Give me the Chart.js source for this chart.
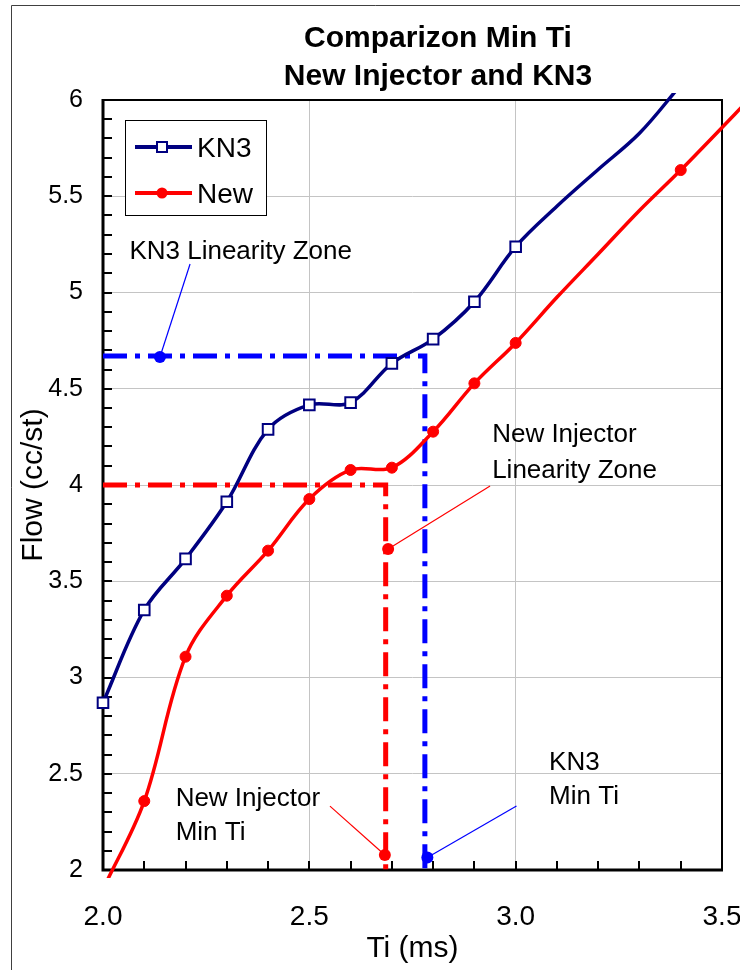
<!DOCTYPE html>
<html><head><meta charset="utf-8">
<script src="https://cdn.jsdelivr.net/npm/chart.js@4.4.0/dist/chart.umd.min.js"></script>
<style>html,body{margin:0;padding:0;background:#fff}canvas{display:block}</style>
</head><body>
<canvas id="c" width="740" height="970"></canvas>
<script>
// ---- text ----
const titleLines = ['Comparizon Min Ti', 'New Injector and KN3'];
const xAxisTitle = 'Ti (ms)';
const yAxisTitle = 'Flow (cc/st)';
const seriesNames = ['KN3', 'New'];

// ---- ticks ----
const xTickValues = [2.0, 2.5, 3.0, 3.5];
const xTickLabels = ['2.0', '2.5', '3.0', '3.5'];
const yTickValues = [2, 2.5, 3, 3.5, 4, 4.5, 5, 5.5, 6];
const yTickLabels = ['2', '2.5', '3', '3.5', '4', '4.5', '5', '5.5', '6'];

// ---- series ----
const kn3Ti     = [2.0, 2.1, 2.2, 2.3, 2.4, 2.5, 2.6, 2.7, 2.8, 2.9, 3.0, 3.1, 3.2, 3.3, 3.4];
const kn3Flow   = [2.869, 3.351, 3.616, 3.913, 4.289, 4.416, 4.428, 4.632, 4.758, 4.952, 5.238, 5.448, 5.639, 5.827, 6.078];
const kn3Marked = [1, 1, 1, 1, 1, 1, 1, 1, 1, 1, 1, 0, 0, 0, 0];

const newTi     = [2.0, 2.1, 2.2, 2.3, 2.4, 2.5, 2.6, 2.7, 2.8, 2.9, 3.0, 3.1, 3.2, 3.3, 3.4, 3.6];
const newFlow   = [1.90, 2.358, 3.108, 3.425, 3.659, 3.927, 4.078, 4.090, 4.277, 4.528, 4.738, 4.975, 5.200, 5.426, 5.636, 6.080];
const newMarked = [0, 1, 1, 1, 1, 1, 1, 1, 1, 1, 1, 0, 0, 0, 1, 0];

// ---- linearity zone guides ----
const kn3ZoneTi   = [2.0, 2.78, 2.78];
const kn3ZoneFlow = [4.67, 4.67, 2.0];
const newZoneTi   = [2.0, 2.685, 2.685];
const newZoneFlow = [4.0, 4.0, 2.0];

// ---- callouts (dot, then leader end) in data units ----
const calloutDotTi    = [2.138, 2.691, 2.683, 2.786];
const calloutDotFlow  = [4.665, 3.668, 2.078, 2.065];
const calloutEndTi    = [2.211, 2.938, 2.550, 3.002];
const calloutEndFlow  = [5.148, 3.995, 2.332, 2.332];
const calloutText     = [['KN3 Linearity Zone'], ['New Injector', 'Linearity Zone'], ['New Injector', 'Min Ti'], ['KN3', 'Min Ti']];
const calloutTextTi   = [2.064, 2.943, 2.176, 3.081];
const calloutTextFlow = [[5.221], [4.273, 4.087], [2.379, 2.203], [2.569, 2.390]];
const calloutColors   = ['#0000FF', '#FF0000', '#FF0000', '#0000FF'];

const FONT = '"Liberation Sans", Arial, Helvetica, sans-serif';
const pts = (xs, ys) => xs.map((x, i) => ({x: x, y: ys[i]}));

const datasets = [
  {
    label: seriesNames[0], data: pts(kn3Ti, kn3Flow),
    borderColor: '#000080', borderWidth: 3.5, tension: 0.35,
    pointStyle: 'rect', pointRadius: kn3Marked.map(m => m ? 7.5 : 0),
    pointBackgroundColor: '#FFFFFF', pointBorderColor: '#000080', pointBorderWidth: 2,
    clip: {left: false, right: false, top: 7, bottom: 8}
  },
  {
    label: seriesNames[1], data: pts(newTi, newFlow),
    borderColor: '#FF0000', borderWidth: 3.5, tension: 0.35,
    pointStyle: 'circle', pointRadius: newMarked.map(m => m ? 5.5 : 0),
    pointBackgroundColor: '#FF0000', pointBorderColor: '#FF0000', pointBorderWidth: 1,
    clip: {left: false, right: false, top: 7, bottom: 8}
  }
];
calloutDotTi.forEach((t, i) => {
  datasets.push({
    label: 'callout' + i,
    data: pts([t, calloutEndTi[i]], [calloutDotFlow[i], calloutEndFlow[i]]),
    borderColor: calloutColors[i], borderWidth: 1.2, tension: 0,
    pointRadius: [6, 0], pointBackgroundColor: calloutColors[i], pointBorderWidth: 0,
    clip: false
  });
});
datasets.push({
  label: 'kn3Zone', data: pts(kn3ZoneTi, kn3ZoneFlow),
  borderColor: '#0000FF', borderWidth: 5, borderDash: [24, 8, 5, 8], borderCapStyle: 'butt',
  tension: 0, pointRadius: 0, clip: false
});
datasets.push({
  label: 'newZone', data: pts(newZoneTi, newZoneFlow),
  borderColor: '#FF0000', borderWidth: 5, borderDash: [24, 8, 5, 8], borderCapStyle: 'butt',
  tension: 0, pointRadius: 0, clip: false
});

const decor = {
  id: 'decor',
  beforeDraw(chart) {
    const ctx = chart.ctx;
    ctx.save();
    ctx.fillStyle = '#FFFFFF';
    ctx.fillRect(0, 0, chart.width, chart.height);
    ctx.strokeStyle = '#404040'; ctx.lineWidth = 1;
    ctx.beginPath(); ctx.moveTo(11.5, 970); ctx.lineTo(11.5, 5.5); ctx.lineTo(740, 5.5); ctx.stroke();
    ctx.restore();
  },
  beforeDatasetsDraw(chart) {
    const {ctx, chartArea: a, scales: {x, y}} = chart;
    ctx.save();
    ctx.strokeStyle = '#000'; ctx.lineWidth = 2;
    const nx = Math.round((x.max - x.min) / 0.1);
    for (let i = 1; i < nx; i++) {
      const px = Math.round(x.getPixelForValue(x.min + i * 0.1));
      ctx.beginPath(); ctx.moveTo(px, a.bottom); ctx.lineTo(px, a.bottom - 9); ctx.stroke();
    }
    const ny = Math.round((y.max - y.min) / 0.1);
    for (let i = 1; i < ny; i++) {
      const py = Math.round(y.getPixelForValue(y.min + i * 0.1));
      ctx.beginPath(); ctx.moveTo(a.left, py); ctx.lineTo(a.left + 9, py); ctx.stroke();
    }
    ctx.lineWidth = 2;
    ctx.strokeRect(a.left, a.top, a.right - a.left, a.bottom - a.top);
    ctx.lineWidth = 3;
    ctx.beginPath(); ctx.moveTo(a.left, a.top - 1); ctx.lineTo(a.left, a.bottom); ctx.lineTo(a.right + 1, a.bottom); ctx.stroke();
    ctx.restore();
  },
  afterDraw(chart) {
    const {ctx, scales: {x, y}} = chart;
    ctx.save();
    // title
    ctx.fillStyle = '#000';
    ctx.font = 'bold 30px ' + FONT;
    ctx.textAlign = 'center'; ctx.textBaseline = 'alphabetic';
    ctx.fillText(titleLines[0], 438, 46.5);
    ctx.fillText(titleLines[1], 438, 85);
    // legend
    ctx.lineWidth = 1; ctx.strokeStyle = '#000';
    ctx.fillStyle = '#FFF';
    ctx.fillRect(125.5, 120.5, 141, 95);
    ctx.strokeRect(125.5, 120.5, 141, 95);
    const rows = [147, 193];
    ctx.strokeStyle = '#000080'; ctx.lineWidth = 4;
    ctx.beginPath(); ctx.moveTo(135, rows[0]); ctx.lineTo(192, rows[0]); ctx.stroke();
    ctx.fillStyle = '#FFF'; ctx.lineWidth = 2;
    ctx.fillRect(157, rows[0] - 5, 10, 10); ctx.strokeRect(157, rows[0] - 5, 10, 10);
    ctx.strokeStyle = '#FF0000'; ctx.lineWidth = 4;
    ctx.beginPath(); ctx.moveTo(135, rows[1]); ctx.lineTo(192, rows[1]); ctx.stroke();
    ctx.fillStyle = '#FF0000';
    ctx.beginPath(); ctx.arc(162, rows[1], 5.5, 0, Math.PI * 2); ctx.fill();
    ctx.fillStyle = '#000';
    ctx.font = '28px ' + FONT; ctx.textAlign = 'left';
    ctx.fillText(seriesNames[0], 197, rows[0] + 9.5);
    ctx.fillText(seriesNames[1], 197, rows[1] + 9.5);
    // callout texts
    ctx.font = '26px ' + FONT;
    calloutText.forEach((lines, i) => {
      const px = x.getPixelForValue(calloutTextTi[i]);
      lines.forEach((s, j) => {
        const py = y.getPixelForValue(calloutTextFlow[i][j]);
        ctx.fillText(s, px, py + 9.3);
      });
    });
    ctx.restore();
  }
};

new Chart(document.getElementById('c'), {
  type: 'line',
  data: {datasets: datasets},
  options: {
    responsive: false, animation: false, events: [],
    devicePixelRatio: 1,
    layout: {padding: {left: 0, right: 18, top: 100, bottom: 0}},
    elements: {line: {capBezierPoints: false}},
    plugins: {legend: {display: false}, tooltip: {enabled: false}, title: {display: false}},
    scales: {
      x: {
        type: 'linear', min: 2.0, max: 3.5,
        afterBuildTicks: s => { s.ticks = xTickValues.map(v => ({value: v})); },
        afterFit: s => { s.height = 100; s.paddingLeft = 0; s.paddingRight = 0; },
        ticks: {
          callback: v => xTickLabels[xTickValues.indexOf(v)],
          font: {family: FONT, size: 28}, color: '#000', padding: 30, maxRotation: 0, autoSkip: false
        },
        grid: {color: '#C4C4C4', lineWidth: 1, drawTicks: false},
        border: {display: false},
        title: {display: true, text: xAxisTitle, color: '#000', font: {family: FONT, size: 30}, padding: {top: 0, bottom: 3}}
      },
      y: {
        type: 'linear', min: 2, max: 6,
        afterBuildTicks: s => { s.ticks = yTickValues.map(v => ({value: v})); },
        afterFit: s => { s.width = 103; s.paddingTop = 0; s.paddingBottom = 0; },
        ticks: {
          callback: v => yTickLabels[yTickValues.indexOf(v)],
          font: {family: FONT, size: 25}, color: '#000', padding: 20, autoSkip: false
        },
        grid: {color: '#C4C4C4', lineWidth: 1, drawTicks: false},
        border: {display: false},
        title: {display: true, text: yAxisTitle, color: '#000', font: {family: FONT, size: 30}, padding: {top: 16, bottom: 0}}
      }
    }
  },
  plugins: [decor]
});
</script>
</body></html>
